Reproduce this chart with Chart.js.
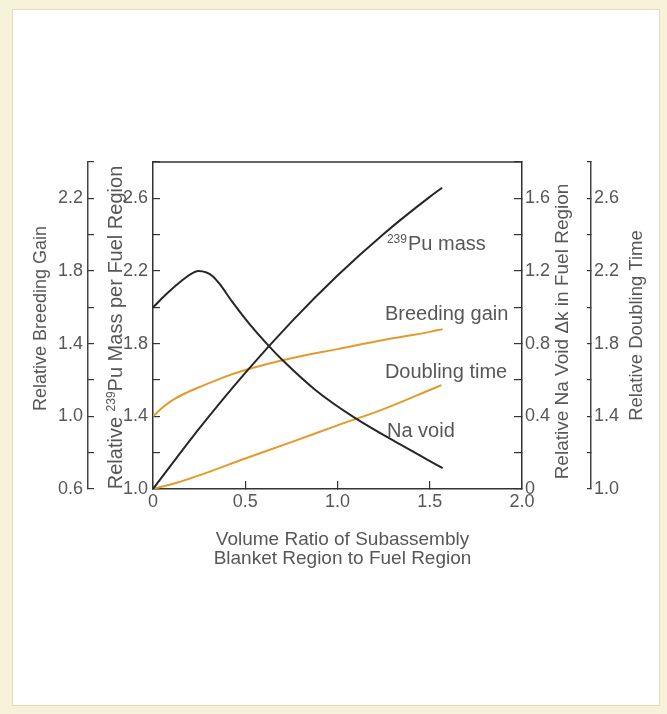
<!DOCTYPE html>
<html>
<head>
<meta charset="utf-8">
<title>Blanket region volume ratio</title>
<script src="https://cdn.jsdelivr.net/npm/chart.js@4.4.0/dist/chart.umd.min.js"></script>
<style>
  html, body { margin: 0; padding: 0; background: #f8f1d9; }
  #marco { position: absolute; left: 12px; top: 9px; width: 646px; height: 695px; background: #fff; border: 1px solid #e8ddb2; }
  #caja { position: absolute; left: 0; top: 0; width: 667px; height: 714px; }
</style>
</head>
<body>
<div id="marco"></div>
<div id="caja"><canvas id="grafica" width="667" height="714"></canvas></div>
<script>
// valores
const ratioPu = [0, 0.25, 0.5, 0.75, 1.0, 1.25, 1.5, 1.567];
const puMass = [1.0, 1.332, 1.639, 1.92, 2.175, 2.404, 2.608, 2.658];

const ratioBreeding = [0, 0.05, 0.1, 0.175, 0.25, 0.375, 0.5, 0.75, 1.0, 1.25, 1.5, 1.57];
const breedingGain = [1.0, 1.047, 1.085, 1.127, 1.16, 1.212, 1.255, 1.32, 1.37, 1.42, 1.465, 1.48];

const ratioDoubling = [0, 0.125, 0.25, 0.5, 0.75, 1.0, 1.25, 1.5, 1.563];
const doublingTime = [1.0, 1.033, 1.075, 1.168, 1.258, 1.35, 1.44, 1.545, 1.572];

const ratioNa = [0, 0.08, 0.16, 0.2, 0.245, 0.29, 0.325, 0.36, 0.43, 0.52, 0.64, 0.70, 0.88, 1.09, 1.34, 1.57];
const naVoid = [1.0, 1.08, 1.15, 1.18, 1.2, 1.192, 1.17, 1.13, 1.03, 0.912, 0.774, 0.711, 0.545, 0.394, 0.245, 0.115];

// etiquetas de los ejes
const xTicks = ['0', '0.5', '1.0', '1.5', '2.0'];
const bgTicks = ['0.6', '1.0', '1.4', '1.8', '2.2'];
const puTicks = ['1.0', '1.4', '1.8', '2.2', '2.6'];
const naTicks = ['0', '0.4', '0.8', '1.2', '1.6'];
const dtTicks = ['1.0', '1.4', '1.8', '2.2', '2.6'];

const xTitle = ['Volume Ratio of Subassembly', 'Blanket Region to Fuel Region'];

// rotulos dentro de la grafica (en unidades de datos, eje de masa de Pu)
const curveLabels = ['Pu mass', 'Breeding gain', 'Doubling time', 'Na void'];
const curveLabelSup = ['239', '', '', ''];
const curveLabelX = [1.268, 1.257, 1.257, 1.268];
const curveLabelY = [2.315, 1.93, 1.611, 1.288];

const fam = '"Liberation Sans", Arial, Helvetica, sans-serif';
const tinta = '#333333';
const texto = '#575757';
const negro = '#262626';
const naranja = '#e39a2d';

Chart.defaults.font.family = fam;
Chart.defaults.color = texto;

function pts(xs, ys) {
    return xs.map(function (x, i) { return { x: x, y: ys[i] }; });
}

function soloEtiquetas(lista) {
    return function (value) {
        for (let i = 0; i < lista.length; i++) {
            if (Math.abs(parseFloat(lista[i]) - value) < 1e-6) return lista[i];
        }
        return '';
    };
}

function ejeY(pos, peso, min, max, lista, largo, relleno, ancho, borde) {
    return {
        type: 'linear',
        position: pos,
        weight: peso,
        min: min,
        max: max,
        ticks: {
            stepSize: 0.2,
            autoSkip: false,
            padding: relleno,
            font: { size: 18 },
            color: texto,
            callback: soloEtiquetas(lista)
        },
        grid: { drawOnChartArea: false, drawTicks: true, tickLength: largo, color: tinta, lineWidth: 1.2 },
        border: { display: true, color: borde, width: 1.5 },
        afterFit: function (s) { s.width = ancho; }
    };
}

function serie(nombre, datos, eje, color) {
    return {
        label: nombre,
        data: datos,
        yAxisID: eje,
        borderColor: color,
        borderWidth: 2,
        pointRadius: 0,
        fill: false,
        cubicInterpolationMode: 'monotone'
    };
}

// texto vertical (leido de abajo hacia arriba) centrado en cx, cy
function tituloVertical(ctx, partes, cx, cy, size) {
    let total = 0;
    partes.forEach(function (p) {
        ctx.font = p.size + 'px ' + fam;
        p.w = ctx.measureText(p.t).width;
        total += p.w;
    });
    ctx.save();
    ctx.translate(cx, cy);
    ctx.rotate(-Math.PI / 2);
    ctx.textAlign = 'left';
    ctx.textBaseline = 'alphabetic';
    let u = -total / 2;
    const base = 0.36 * size;
    partes.forEach(function (p) {
        ctx.font = p.size + 'px ' + fam;
        ctx.fillText(p.t, u, base - (p.raise || 0));
        u += p.w;
    });
    ctx.restore();
}

const adornos = {
    id: 'adornos',
    afterDraw: function (chart) {
        const ctx = chart.ctx;
        const a = chart.chartArea;
        const s = chart.scales;
        ctx.save();

        // borde superior del marco
        ctx.strokeStyle = tinta;
        ctx.lineWidth = 1.5;
        ctx.beginPath();
        ctx.moveTo(a.left, a.top);
        ctx.lineTo(a.right, a.top);
        ctx.stroke();

        ctx.fillStyle = texto;
        const midY = (a.top + a.bottom) / 2;
        tituloVertical(ctx, [{ t: 'Relative Breeding Gain', size: 18 }], s.yBG.left + 40, midY - 7, 18);
        tituloVertical(ctx, [
            { t: 'Relative ', size: 20 },
            { t: '239', size: 12, raise: 7 },
            { t: 'Pu Mass per Fuel Region', size: 20 }
        ], s.yPu.left + 27, midY + 2, 20);
        tituloVertical(ctx, [{ t: 'Relative Na Void \u0394k in Fuel Region', size: 19 }], s.yNa.left + 39, midY + 6, 19);
        tituloVertical(ctx, [{ t: 'Relative Doubling Time', size: 18.5 }], s.yDT.left + 44, midY, 18.5);

        // titulo del eje x
        ctx.textAlign = 'center';
        ctx.textBaseline = 'middle';
        ctx.font = '19px ' + fam;
        const cx = (a.left + a.right) / 2 + 5;
        xTitle.forEach(function (linea, i) {
            ctx.fillText(linea, cx, a.bottom + 51 + i * 19);
        });

        // rotulos de las curvas
        ctx.textAlign = 'left';
        ctx.textBaseline = 'alphabetic';
        for (let i = 0; i < curveLabels.length; i++) {
            let px = s.x.getPixelForValue(curveLabelX[i]);
            const py = s.yPu.getPixelForValue(curveLabelY[i]);
            if (curveLabelSup[i]) {
                ctx.font = '12px ' + fam;
                ctx.fillText(curveLabelSup[i], px, py - 7);
                px += ctx.measureText(curveLabelSup[i]).width + 1;
            }
            ctx.font = '20px ' + fam;
            ctx.fillText(curveLabels[i], px, py);
        }
        ctx.restore();
    }
};

const ctx = document.getElementById('grafica').getContext('2d');
const grafica = new Chart(ctx, {
    type: 'line',
    data: {
        datasets: [
            serie('Pu mass', pts(ratioPu, puMass), 'yPu', negro),
            serie('Na void', pts(ratioNa, naVoid), 'yNa', negro),
            serie('Breeding gain', pts(ratioBreeding, breedingGain), 'yBG', naranja),
            serie('Doubling time', pts(ratioDoubling, doublingTime), 'yDT', naranja)
        ]
    },
    options: {
        responsive: false,
        animation: false,
        layout: { padding: { top: 162, bottom: 145, left: 0, right: 0 } },
        plugins: {
            legend: { display: false },
            tooltip: { enabled: false }
        },
        scales: {
            x: {
                type: 'linear',
                position: 'bottom',
                min: 0,
                max: 2,
                ticks: {
                    stepSize: 0.5,
                    autoSkip: false,
                    maxRotation: 0,
                    padding: 10,
                    font: { size: 18 },
                    color: texto,
                    callback: soloEtiquetas(xTicks)
                },
                grid: { drawOnChartArea: false, drawTicks: true, tickLength: -8, color: tinta, lineWidth: 1.2 },
                border: { display: true, color: tinta, width: 1.5 },
                afterFit: function (s) { s.height = 80; }
            },
            yBG: ejeY('left', 1, 0.6, 2.4, bgTicks, -6, 11, 88, '#444444'),
            yPu: ejeY('left', 0, 1.0, 2.8, puTicks, -7, 12, 65, tinta),
            yNa: ejeY('right', 0, 0, 1.8, naTicks, -8, 11, 69, tinta),
            yDT: ejeY('right', 1, 1.0, 2.8, dtTicks, -4, 7, 76, '#444444')
        }
    },
    plugins: [adornos]
});
</script>
</body>
</html>
